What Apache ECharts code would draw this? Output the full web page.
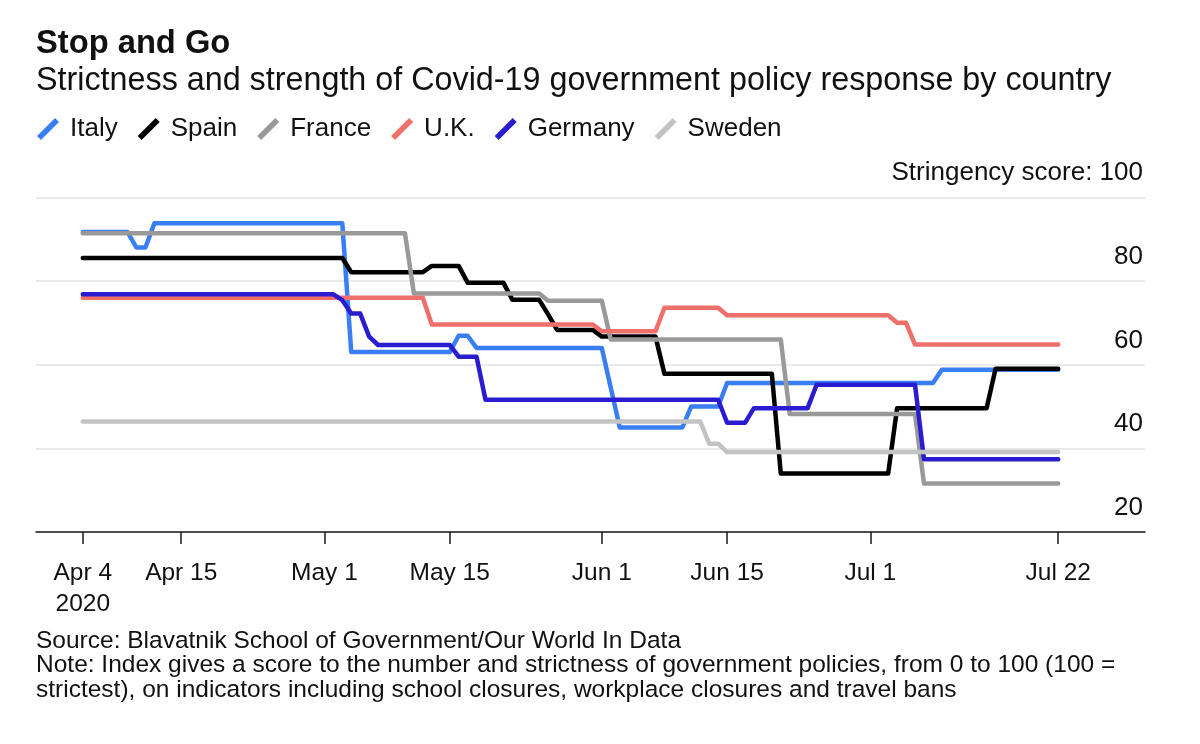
<!DOCTYPE html>
<html>
<head>
<meta charset="utf-8">
<script src="https://cdn.jsdelivr.net/npm/echarts@6/dist/echarts.min.js"></script>
<style>
  html, body { margin: 0; padding: 0; background: #ffffff; }
  #chart { width: 1200px; height: 744px; }
</style>
</head>
<body>
<div id="chart"></div>
<script>
// ---- Data (daily stringency index, Apr 4 2020 = day 0 ... Jul 22 2020 = day 109) ----
const seriesNames = ['Italy', 'Spain', 'France', 'U.K.', 'Germany', 'Sweden'];
const seriesColors = ['#3a7ef4', '#000000', '#999999', '#ef706a', '#2a1cd0', '#c3c3c3'];

const italy = [
  91.7, 91.7, 91.7, 91.7, 91.7, 91.7, 88.0, 88.0, 93.8, 93.8,
  93.8, 93.8, 93.8, 93.8, 93.8, 93.8, 93.8, 93.8, 93.8, 93.8,
  93.8, 93.8, 93.8, 93.8, 93.8, 93.8, 93.8, 93.8, 93.8, 93.8,
  63.0, 63.0, 63.0, 63.0, 63.0, 63.0, 63.0, 63.0, 63.0, 63.0,
  63.0, 63.0, 66.9, 66.9, 64.0, 64.0, 64.0, 64.0, 64.0, 64.0,
  64.0, 64.0, 64.0, 64.0, 64.0, 64.0, 64.0, 64.0, 64.0, 54.5,
  45.0, 45.0, 45.0, 45.0, 45.0, 45.0, 45.0, 45.0, 50.0, 50.0,
  50.0, 50.0, 55.6, 55.6, 55.6, 55.6, 55.6, 55.6, 55.6, 55.6,
  55.6, 55.6, 55.6, 55.6, 55.6, 55.6, 55.6, 55.6, 55.6, 55.6,
  55.6, 55.6, 55.6, 55.6, 55.6, 55.6, 58.8, 58.8, 58.8, 58.8,
  58.8, 58.8, 58.8, 58.8, 58.8, 58.8, 58.8, 58.8, 58.8, 58.8
];
const spain = [
  85.5, 85.5, 85.5, 85.5, 85.5, 85.5, 85.5, 85.5, 85.5, 85.5,
  85.5, 85.5, 85.5, 85.5, 85.5, 85.5, 85.5, 85.5, 85.5, 85.5,
  85.5, 85.5, 85.5, 85.5, 85.5, 85.5, 85.5, 85.5, 85.5, 85.5,
  82.1, 82.1, 82.1, 82.1, 82.1, 82.1, 82.1, 82.1, 82.1, 83.6,
  83.6, 83.6, 83.6, 79.6, 79.6, 79.6, 79.6, 79.6, 75.5, 75.5,
  75.5, 75.5, 72.0, 68.3, 68.3, 68.3, 68.3, 68.3, 66.7, 66.7,
  66.7, 66.7, 66.7, 66.7, 66.7, 57.8, 57.8, 57.8, 57.8, 57.8,
  57.8, 57.8, 57.8, 57.8, 57.8, 57.8, 57.8, 57.8, 34.0, 34.0,
  34.0, 34.0, 34.0, 34.0, 34.0, 34.0, 34.0, 34.0, 34.0, 34.0,
  34.0, 49.6, 49.6, 49.6, 49.6, 49.6, 49.6, 49.6, 49.6, 49.6,
  49.6, 49.6, 59.0, 59.0, 59.0, 59.0, 59.0, 59.0, 59.0, 59.0
];
const france = [
  91.4, 91.4, 91.4, 91.4, 91.4, 91.4, 91.4, 91.4, 91.4, 91.4,
  91.4, 91.4, 91.4, 91.4, 91.4, 91.4, 91.4, 91.4, 91.4, 91.4,
  91.4, 91.4, 91.4, 91.4, 91.4, 91.4, 91.4, 91.4, 91.4, 91.4,
  91.4, 91.4, 91.4, 91.4, 91.4, 91.4, 91.4, 77.0, 77.0, 77.0,
  77.0, 77.0, 77.0, 77.0, 77.0, 77.0, 77.0, 77.0, 77.0, 77.0,
  77.0, 77.0, 75.3, 75.3, 75.3, 75.3, 75.3, 75.3, 75.3, 66.0,
  66.0, 66.0, 66.0, 66.0, 66.0, 66.0, 66.0, 66.0, 66.0, 66.0,
  66.0, 66.0, 66.0, 66.0, 66.0, 66.0, 66.0, 66.0, 66.0, 48.2,
  48.2, 48.2, 48.2, 48.2, 48.2, 48.2, 48.2, 48.2, 48.2, 48.2,
  48.2, 48.2, 48.2, 48.2, 31.6, 31.6, 31.6, 31.6, 31.6, 31.6,
  31.6, 31.6, 31.6, 31.6, 31.6, 31.6, 31.6, 31.6, 31.6, 31.6
];
const uk = [
  76.0, 76.0, 76.0, 76.0, 76.0, 76.0, 76.0, 76.0, 76.0, 76.0,
  76.0, 76.0, 76.0, 76.0, 76.0, 76.0, 76.0, 76.0, 76.0, 76.0,
  76.0, 76.0, 76.0, 76.0, 76.0, 76.0, 76.0, 76.0, 76.0, 76.0,
  76.0, 76.0, 76.0, 76.0, 76.0, 76.0, 76.0, 76.0, 76.0, 69.6,
  69.6, 69.6, 69.6, 69.6, 69.6, 69.6, 69.6, 69.6, 69.6, 69.6,
  69.6, 69.6, 69.6, 69.6, 69.6, 69.6, 69.6, 69.6, 68.0, 68.0,
  68.0, 68.0, 68.0, 68.0, 68.0, 73.6, 73.6, 73.6, 73.6, 73.6,
  73.6, 73.6, 71.8, 71.8, 71.8, 71.8, 71.8, 71.8, 71.8, 71.8,
  71.8, 71.8, 71.8, 71.8, 71.8, 71.8, 71.8, 71.8, 71.8, 71.8,
  71.8, 70.0, 70.0, 64.8, 64.8, 64.8, 64.8, 64.8, 64.8, 64.8,
  64.8, 64.8, 64.8, 64.8, 64.8, 64.8, 64.8, 64.8, 64.8, 64.8
];
const germany = [
  76.8, 76.8, 76.8, 76.8, 76.8, 76.8, 76.8, 76.8, 76.8, 76.8,
  76.8, 76.8, 76.8, 76.8, 76.8, 76.8, 76.8, 76.8, 76.8, 76.8,
  76.8, 76.8, 76.8, 76.8, 76.8, 76.8, 76.8, 76.8, 76.8, 75.4,
  72.2, 72.2, 66.7, 64.7, 64.7, 64.7, 64.7, 64.7, 64.7, 64.7,
  64.7, 64.7, 61.9, 61.9, 61.9, 51.6, 51.6, 51.6, 51.6, 51.6,
  51.6, 51.6, 51.6, 51.6, 51.6, 51.6, 51.6, 51.6, 51.6, 51.6,
  51.6, 51.6, 51.6, 51.6, 51.6, 51.6, 51.6, 51.6, 51.6, 51.6,
  51.6, 51.6, 46.1, 46.1, 46.1, 49.6, 49.6, 49.6, 49.6, 49.6,
  49.6, 49.6, 55.2, 55.2, 55.2, 55.2, 55.2, 55.2, 55.2, 55.2,
  55.2, 55.2, 55.2, 55.2, 37.4, 37.4, 37.4, 37.4, 37.4, 37.4,
  37.4, 37.4, 37.4, 37.4, 37.4, 37.4, 37.4, 37.4, 37.4, 37.4
];
const sweden = [
  46.4, 46.4, 46.4, 46.4, 46.4, 46.4, 46.4, 46.4, 46.4, 46.4,
  46.4, 46.4, 46.4, 46.4, 46.4, 46.4, 46.4, 46.4, 46.4, 46.4,
  46.4, 46.4, 46.4, 46.4, 46.4, 46.4, 46.4, 46.4, 46.4, 46.4,
  46.4, 46.4, 46.4, 46.4, 46.4, 46.4, 46.4, 46.4, 46.4, 46.4,
  46.4, 46.4, 46.4, 46.4, 46.4, 46.4, 46.4, 46.4, 46.4, 46.4,
  46.4, 46.4, 46.4, 46.4, 46.4, 46.4, 46.4, 46.4, 46.4, 46.4,
  46.4, 46.4, 46.4, 46.4, 46.4, 46.4, 46.4, 46.4, 46.4, 46.4,
  41.1, 41.1, 39.1, 39.1, 39.1, 39.1, 39.1, 39.1, 39.1, 39.1,
  39.1, 39.1, 39.1, 39.1, 39.1, 39.1, 39.1, 39.1, 39.1, 39.1,
  39.1, 39.1, 39.1, 39.1, 39.1, 39.1, 39.1, 39.1, 39.1, 39.1,
  39.1, 39.1, 39.1, 39.1, 39.1, 39.1, 39.1, 39.1, 39.1, 39.1
];
const seriesValues = [italy, spain, france, uk, germany, sweden];

// x tick positions (day offsets from Apr 4) and their labels
const tickDays = [0, 11, 27, 41, 58, 72, 88, 109];
const tickLabels = ['Apr 4\n2020', 'Apr 15', 'May 1', 'May 15', 'Jun 1', 'Jun 15', 'Jul 1', 'Jul 22'];
// y tick labels
const yTickValues = [20, 40, 60, 80, 100];
const yTickLabels = ['20', '40', '60', '80', 'Stringency score: 100'];

const titleText = 'Stop and Go';
const subtitleText = 'Strictness and strength of Covid-19 government policy response by country';
const footerLines = [
  'Source: Blavatnik School of Government/Our World In Data',
  'Note: Index gives a score to the number and strictness of government policies, from 0 to 100 (100 =',
  'strictest), on indicators including school closures, workplace closures and travel bans'
];

// ---- Chart ----
const FONT = '"Liberation Sans", Arial, Helvetica, sans-serif';
const chart = echarts.init(document.getElementById('chart'), null, { renderer: 'canvas' });

const series = seriesNames.map((name, k) => ({
  name: name,
  type: 'line',
  data: seriesValues[k].map((v, i) => [i, v]),
  showSymbol: false,
  symbol: 'none',
  color: seriesColors[k],
  lineStyle: { width: 4.5, color: seriesColors[k], cap: 'round', join: 'round' },
  emphasis: { disabled: true },
  silent: true,
  z: 2 + k
}));

function textEl(txt, x, y, size, weight) {
  return {
    type: 'text',
    x: x, y: y,
    silent: true,
    style: {
      text: txt,
      fill: '#111',
      font: (weight || 'normal') + ' ' + size + 'px ' + FONT,
      align: 'left', verticalAlign: 'middle',
      textAlign: 'left', textVerticalAlign: 'middle'
    }
  };
}

const option = {
  animation: false,
  backgroundColor: '#ffffff',
  textStyle: { fontFamily: FONT },
  grid: { left: 36, right: 55, top: 197.3, bottom: 212, containLabel: false, outerBoundsMode: 'none' },
  legend: {
    data: seriesNames,
    left: 37, top: 116,
    padding: 0,
    itemWidth: 24, itemHeight: 22, itemGap: 20,
    icon: 'path://M0,82 L82,0 L100,18 L18,100 Z',
    itemStyle: { borderWidth: 0 },
    selectedMode: false,
    textStyle: { fontSize: 26, color: '#111', fontFamily: FONT, padding: [0, 0, 0, 5] }
  },
  xAxis: {
    type: 'value',
    min: -5.23, max: 118.7,
    axisLine: { show: true, lineStyle: { color: '#1a1a1a', width: 1.5 } },
    axisTick: { show: true, length: 12, lineStyle: { color: '#1a1a1a', width: 1.5 }, customValues: tickDays },
    axisLabel: {
      customValues: tickDays,
      formatter: function (v) { const i = tickDays.indexOf(v); return i >= 0 ? tickLabels[i] : ''; },
      fontSize: 24.5, lineHeight: 31, margin: 26, color: '#111', fontFamily: FONT, align: 'center'
    },
    splitLine: { show: false }
  },
  yAxis: {
    type: 'value',
    position: 'right',
    min: 20, max: 100, interval: 20,
    axisLine: { show: false },
    axisTick: { show: false },
    splitLine: { show: true, lineStyle: { color: '#eaeaea', width: 2 } },
    axisLabel: {
      inside: true, margin: 2,
      align: 'right', verticalAlign: 'bottom',
      lineHeight: 26, padding: [0, 0, 11, 0],
      fontSize: 26, color: '#111', fontFamily: FONT,
      showMinLabel: true, showMaxLabel: true,
      formatter: function (v) { const i = yTickValues.indexOf(v); return i >= 0 ? yTickLabels[i] : ''; }
    }
  },
  graphic: [
    textEl(titleText, 36, 44, 32.7, 'bold'),
    textEl(subtitleText, 36, 81, 32.3),
    textEl(footerLines[0], 36, 641, 24.5),
    textEl(footerLines[1], 36, 665.5, 24.5),
    textEl(footerLines[2], 36, 690, 24.5)
  ],
  series: series
};

chart.setOption(option);
</script>
</body>
</html>
